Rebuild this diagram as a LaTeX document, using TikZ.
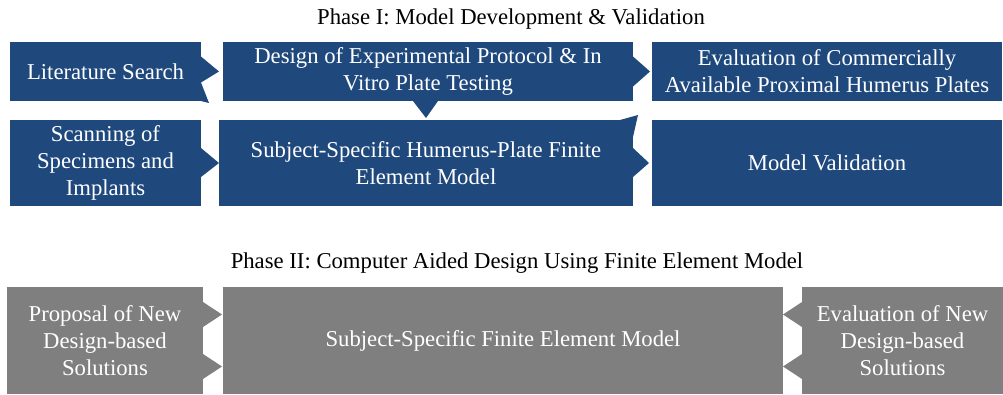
\documentclass[tikz,border=0pt]{standalone}
\usepackage{fontspec}
\setmainfont{Liberation Serif}
\usepackage{xcolor}
\usepackage{tikz}
\usetikzlibrary{positioning,calc}

\definecolor{phaseblue}{RGB}{31,73,125}
\definecolor{phasegray}{RGB}{127,127,127}

\begin{document}
\begin{tikzpicture}[
  x=1pt, y=-1pt,
  box/.style={rectangle, inner sep=0pt, outer sep=0pt, text=white, align=center, font={\fontsize{22.7}{27.2}\selectfont}},
  bluebox/.style={box, fill=phaseblue},
  graybox/.style={box, fill=phasegray},
  title/.style={font={\fontsize{22.7}{27.2}\selectfont}, text=black}
]
\useasboundingbox (0,0) rectangle (1003,394);

% Titles
\node[title] (phase1) at (511,19) {Phase I: Model Development \& Validation};
\node[title] (phase2) at (517,263) {Phase II: Computer Aided Design Using Finite Element Model};

% Phase I: top row
\node[bluebox, minimum width=191pt, minimum height=59pt] (lit) at (105.5,71.5) {Literature Search};
\node[bluebox, minimum width=410pt, minimum height=59pt] (design) at (428,71.5) {Design of Experimental Protocol \& In\\Vitro Plate Testing};
\node[bluebox, minimum width=350pt, minimum height=59pt] (evalc) at (827,71.5) {Evaluation of Commercially\\Available Proximal Humerus Plates};

% Phase I: bottom row
\node[bluebox, minimum width=191pt, minimum height=86pt] (scan) at (105.5,163) {Scanning of\\Specimens and\\Implants};
\node[bluebox, minimum width=414pt, minimum height=86pt] (fem) at (426,163) {Subject-Specific Humerus-Plate Finite\\Element Model};
\node[bluebox, minimum width=350pt, minimum height=86pt] (valid) at (827,163) {Model Validation};

% Phase II
\node[graybox, minimum width=196pt, minimum height=107pt] (prop) at (105,340.5) {Proposal of New\\Design-based\\Solutions};
\node[graybox, minimum width=560pt, minimum height=107pt] (sfem) at (503,340.5) {Subject-Specific Finite Element Model};
\node[graybox, minimum width=201pt, minimum height=107pt] (evaln) at (902.5,340.5) {Evaluation of New\\Design-based\\Solutions};

% Pointers, Phase I
\fill[phaseblue] ($(lit.east)+(0,-15)$) -- ($(lit.east -| design.west)+(-4,0)$) -- ($(lit.east)+(0,11)$) -- ($(lit.south east)+(8,2)$) -- (lit.south east) -- cycle;
\fill[phaseblue] ($(design.east)+(0,-15)$) -- ($(design.east -| evalc.west)+(-2,0)$) -- ($(design.east)+(0,15)$) -- cycle;
\fill[phaseblue] ($(design.south)+(-15,0)$) -- ($(design.south |- fem.north)+(-2,-2)$) -- ($(design.south)+(10,0)$) -- cycle;
\fill[phaseblue] ($(scan.east)+(0,-15)$) -- (scan.east -| fem.west) -- ($(scan.east)+(0,14)$) -- cycle;
\fill[phaseblue] ($(fem.east)+(0,-15)$) -- ($(fem.east -| valid.west)+(-3,0)$) -- ($(fem.east)+(0,14)$) -- cycle;
\fill[phaseblue] ($(fem.north east)+(-13,0)$) -- ($(fem.north east)+(5,-5)$) -- ($(fem.north east)+(0,17)$) -- cycle;

% Pointers, Phase II
\foreach \dy in {-26,26} {
  \fill[phasegray] ($(prop.east)+(0,\dy-12.5)$) -- ($(prop.east -| sfem.west)+(-1,\dy)$) -- ($(prop.east)+(0,\dy+12.5)$) -- cycle;
  \fill[phasegray] ($(evaln.west)+(0,\dy-12.5)$) -- ($(evaln.west -| sfem.east)+(0,\dy)$) -- ($(evaln.west)+(0,\dy+12.5)$) -- cycle;
}

\end{tikzpicture}
\end{document}
